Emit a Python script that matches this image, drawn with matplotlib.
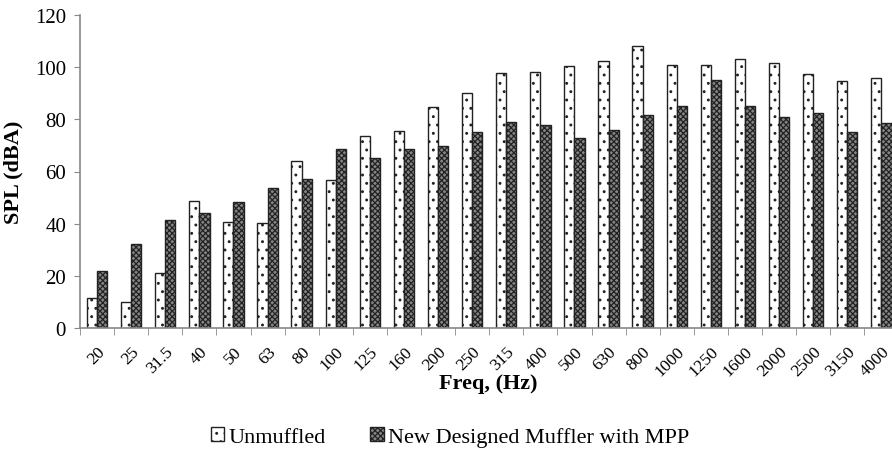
import numpy as np
import matplotlib
matplotlib.use("Agg")
import matplotlib.pyplot as plt
import matplotlib.transforms as mtransforms

plt.rcParams['font.family'] = ['Liberation Serif', 'DejaVu Serif']
plt.rcParams['hatch.linewidth'] = 0.9

# data
freqs = ["20", "25", "31.5", "40", "50", "63", "80", "100", "125", "160", "200", "250",
         "315", "400", "500", "630", "800", "1000", "1250", "1600", "2000", "2500",
         "3150", "4000"]
unmuffled = [11.5, 10, 21.2, 48.8, 40.5, 40.3, 63.9, 56.7, 73.6, 75.4, 84.9, 90,
             97.7, 98.2, 100.6, 102.4, 108, 100.8, 100.8, 103.1, 101.6, 97.3, 94.6, 95.9]
muffler = [22, 32.2, 41.4, 44, 48.2, 53.8, 57, 68.5, 65.2, 68.5, 69.9, 75.2,
           79.1, 77.8, 72.9, 75.8, 81.6, 85, 95.2, 85.2, 80.9, 82.6, 75, 78.6]

fig = plt.figure(figsize=(8.92, 4.6), dpi=100)
n = len(freqs)
# axes runs slightly past the right edge (picture is cropped there)
ax = fig.add_axes([80 / 892, 1 - 329 / 460, n * 34.1 / 892, (329 - 16) / 460])

x = np.arange(n)
w = 0.3
ax.bar(x - w / 2, unmuffled, w, color='white', edgecolor='#222222', linewidth=1.0,
       hatch='..', label='Unmuffled')
ax.bar(x + w / 2, muffler, w, color='#858585', edgecolor='#222222', linewidth=1.0,
       hatch='xxxxxx', label='New Designed Muffler with MPP')

ax.set_xlim(-0.5, n - 0.5)
ax.set_ylim(0, 120)
ax.set_yticks(np.arange(0, 121, 20))
ax.set_xticks(x)
ax.set_xticklabels(freqs, rotation=45, ha='right', rotation_mode='anchor', fontsize=12.5)
shift = mtransforms.ScaledTranslation(4 / 100, 0, fig.dpi_scale_trans)
for lbl in ax.get_xticklabels():
    lbl.set_transform(lbl.get_transform() + shift)
ax.set_xticks(np.arange(n + 1) - 0.5, minor=True)
ax.tick_params(axis='x', which='major', length=0, pad=11)
ax.tick_params(axis='x', which='minor', length=5, color='#888888', direction='out')
ax.tick_params(axis='y', length=4, color='#888888', labelsize=15, pad=6)

for s in ['top', 'right']:
    ax.spines[s].set_visible(False)
for s in ['left', 'bottom']:
    ax.spines[s].set_color('#888888')
    ax.spines[s].set_linewidth(1.2)

ax.set_ylabel('SPL (dBA)', fontsize=16, fontweight='bold', labelpad=8)
fig.text(488 / 892, 1 - 384 / 460, 'Freq, (Hz)', fontsize=16, fontweight='bold',
         ha='center', va='center')

fig.legend(loc='center', bbox_to_anchor=(450 / 892, 1 - 438 / 460), ncol=2,
           frameon=False, fontsize=16, handlelength=0.6, handleheight=0.6,
           handletextpad=0.2, columnspacing=2.0)

fig.savefig('out.png', dpi=100)
